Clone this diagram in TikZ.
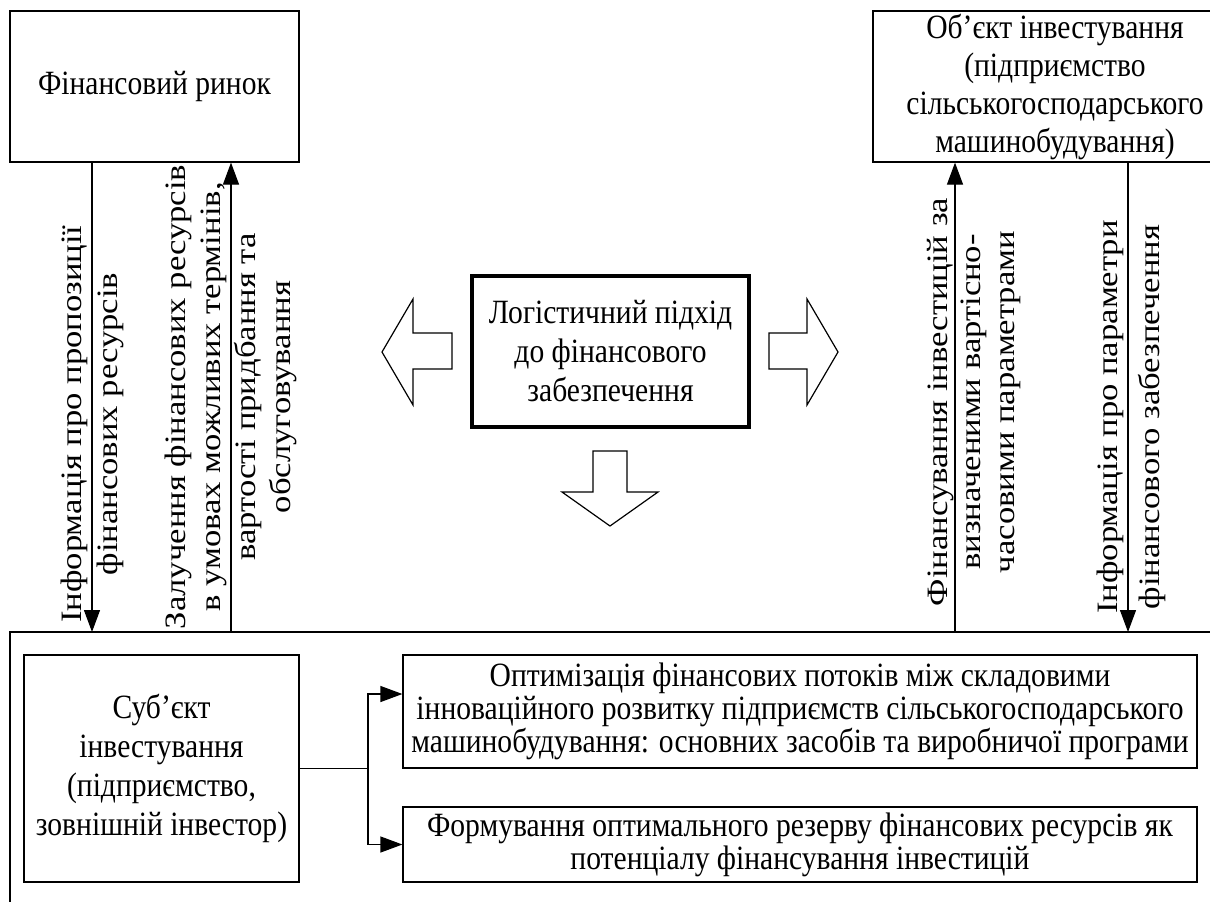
\documentclass[tikz,border=0pt]{standalone}
\usepackage{fontspec}
\setmainfont{Liberation Serif}
\newfontfamily\flatserif[FakeStretch=0.87]{Liberation Serif}
\newfontfamily\longserif[FakeStretch=1.17]{Liberation Serif}
\usetikzlibrary{arrows.meta}

\begin{document}
\begin{tikzpicture}[x=0.5pt,y=-0.5pt,line width=0.6pt,
    box/.style={draw,inner sep=0pt,align=center,font=\flatserif\fontsize{17}{19.5}\selectfont},
    tag/.style={rotate=90,inner sep=0pt,align=center},
    arr/.style={-{Triangle[length=11pt,width=8pt]}},
    block/.style={draw,line width=0.6pt}]
\useasboundingbox (0,0) rectangle (1210,901);
\node[box,minimum width=144.5pt,minimum height=75.5pt] (market) at (154.5,86.5) {Фінансовий ринок};
\node[box,minimum width=182pt,minimum height=75.5pt,font=\flatserif\fontsize{17}{19}\selectfont] (object) at (1055,86.5)
    {Об’єкт інвестування\\(підприємство\\сільськогосподарського\\машинобудування)};
\node[box,line width=1.6pt,minimum width=138.5pt,minimum height=75.5pt] (logic) at (610.5,351.5)
    {Логістичний підхід\\до фінансового\\забезпечення};
\node[box,minimum width=137.5pt,minimum height=113.5pt] (subject) at (161.5,768.5)
    {Суб’єкт\\інвестування\\(підприємство,\\зовнішній інвестор)};
\node[box,minimum width=397pt,minimum height=56.5pt,font=\flatserif\fontsize{17}{16.5}\selectfont] (goal1) at (800,711.5)
    {Оптимізація фінансових потоків між складовими\\інноваційного розвитку підприємств сільськогосподарського\\машинобудування: основних засобів та виробничої програми};
\node[box,minimum width=397pt,minimum height=37.5pt,font=\flatserif\fontsize{17}{16.5}\selectfont] (goal2) at (800,844.5)
    {Формування оптимального резерву фінансових ресурсів як\\потенціалу фінансування інвестицій};
\coordinate (frame) at (10,632);
\draw (frame |- 0,905) -- (frame) -- (1215,632);
\draw[arr] (market.south -| 92,0) -- (frame -| 92,0);
\draw[arr] (frame -| 231,0) -- (market.south -| 231,0);
\draw[arr] (frame -| 955,0) -- (object.south -| 955,0);
\draw[arr] (object.south -| 1128,0) -- (frame -| 1128,0);
\node[tag,font=\longserif\fontsize{14.8}{18}\selectfont] (offer) at (92,424)
    {Інформація про пропозиції\\фінансових ресурсів};
\node[tag,font=\longserif\fontsize{14.8}{17.5}\selectfont] (attract) at (231,397)
    {Залучення фінансових ресурсів\\в умовах можливих термінів,\\вартості придбання та\\обслуговування};
\node[tag,font=\longserif\fontsize{14.8}{16.75}\selectfont] (funding) at (974,402)
    {Фінансування інвестицій за\\визначеними вартісно-\\часовими параметрами};
\node[tag,font=\longserif\fontsize{14.8}{21}\selectfont] (params) at (1131,417)
    {Інформація про параметри\\фінансового забезпечення};
\draw[block] (452,333) -- (413,333) -- (413,299) -- (382,352) -- (413,405) -- (413,369) -- (452,369) -- cycle;
\draw[block] (769,333) -- (807,333) -- (807,299) -- (838,352) -- (807,405) -- (807,369) -- (769,369) -- cycle;
\draw[block] (593,451) -- (627,451) -- (627,492) -- (658,492) -- (610,526) -- (562,492) -- (593,492) -- cycle;
\draw (subject.east) -- (subject.east -| 368,0) coordinate (fork);
\draw[arr] (fork) |- (goal1.west |- 0,694);
\draw[arr] (fork) |- (goal2.west);
\end{tikzpicture}
\end{document}
